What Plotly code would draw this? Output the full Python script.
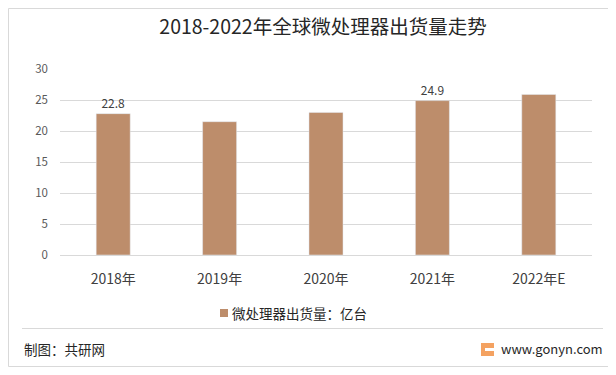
import plotly.graph_objects as go

categories = ["2018年", "2019年", "2020年", "2021年", "2022年E"]
values = [22.8, 21.5, 23.0, 24.9, 25.9]
label_text = ["22.8", "", "", "24.9", ""]
series_name = "微处理器出货量：亿台"
title_text = "2018-2022年全球微处理器出货量走势"
y_ticks = [0, 5, 10, 15, 20, 25, 30]

# page body has an 8px margin, so the figure is laid out in window coords minus 8
OFF = 8
W, H = 608, 367
ML, MR, MT, MB = 52, 24, 61, 120
PW, PH = W - ML - MR, H - MT - MB

def px(x):
    return (x - OFF - ML) / PW

def py(y):
    return (H - MB - (y - OFF)) / PH

FONT = "Noto Sans CJK SC"
BAR = "#BD8D6B"
GRID = "#D9D9D9"

fig = go.Figure()
fig.add_trace(go.Bar(
    x=categories, y=values, name=series_name,
    marker_color=BAR, text=label_text, textposition="outside",
    textfont=dict(size=12, color="#404040", family=FONT),
    cliponaxis=False, showlegend=False,
))

fig.update_layout(
    width=W, height=H,
    margin=dict(l=ML, r=MR, t=MT, b=MB),
    paper_bgcolor="white", plot_bgcolor="white",
    bargap=0.68,
    showlegend=False,
    font=dict(family=FONT, color="#404040"),
    title=dict(text=title_text, x=(323 - OFF) / W, xref="container", xanchor="center",
               y=1 - (27 - OFF) / H, yref="container", yanchor="middle",
               font=dict(size=19.5, color="#262626", family=FONT)),
    xaxis=dict(showgrid=False, showline=False, zeroline=False,
               ticks="outside", ticklen=0, ticklabelstandoff=11,
               tickfont=dict(size=14, color="#404040", family=FONT)),
    yaxis=dict(range=[0, 30], tickvals=y_ticks, showgrid=True, gridcolor=GRID,
               gridwidth=1, zeroline=True, zerolinecolor=GRID, zerolinewidth=1,
               showline=False, ticklabelstandoff=11,
               tickfont=dict(size=11.5, color="#595959", family=FONT)),
)

# outer border (left/top edges drawn at the first visible pixel of the figure)
fig.add_shape(type="rect", xref="paper", yref="paper",
              x0=px(8.5), x1=px(610.5), y0=py(366.5), y1=py(8.5),
              line=dict(color="#D9D9D9", width=1), fillcolor="rgba(0,0,0,0)", layer="below")
# separator line
fig.add_shape(type="line", xref="paper", yref="paper",
              x0=px(22), x1=px(603), y0=py(328.5), y1=py(328.5),
              line=dict(color="#D9D9D9", width=1))
# legend swatch + text
fig.add_shape(type="rect", xref="paper", yref="paper",
              x0=px(220), x1=px(228), y0=py(317), y1=py(309),
              line=dict(width=0), fillcolor=BAR)
fig.add_annotation(text=series_name, xref="paper", yref="paper",
                   x=px(230), y=py(313), xanchor="left", yanchor="middle",
                   showarrow=False, font=dict(size=13.5, color="#262626", family=FONT))
# logo
fig.add_shape(type="rect", xref="paper", yref="paper",
              x0=px(481), x1=px(494), y0=py(356), y1=py(343),
              line=dict(width=0), fillcolor="#F4A261")
fig.add_shape(type="rect", xref="paper", yref="paper",
              x0=px(485), x1=px(494), y0=py(351), y1=py(348),
              line=dict(width=0), fillcolor="white")

fig.add_annotation(text="制图：共研网", xref="paper", yref="paper",
                   x=px(22), y=py(349), xanchor="left", yanchor="middle",
                   showarrow=False, font=dict(size=13.5, color="#262626", family=FONT))
fig.add_annotation(text="www.gonyn.com", xref="paper", yref="paper",
                   x=px(499), y=py(348), xanchor="left", yanchor="middle",
                   showarrow=False, font=dict(size=13, color="#262626", family=FONT))

fig.write_html("out.html")
